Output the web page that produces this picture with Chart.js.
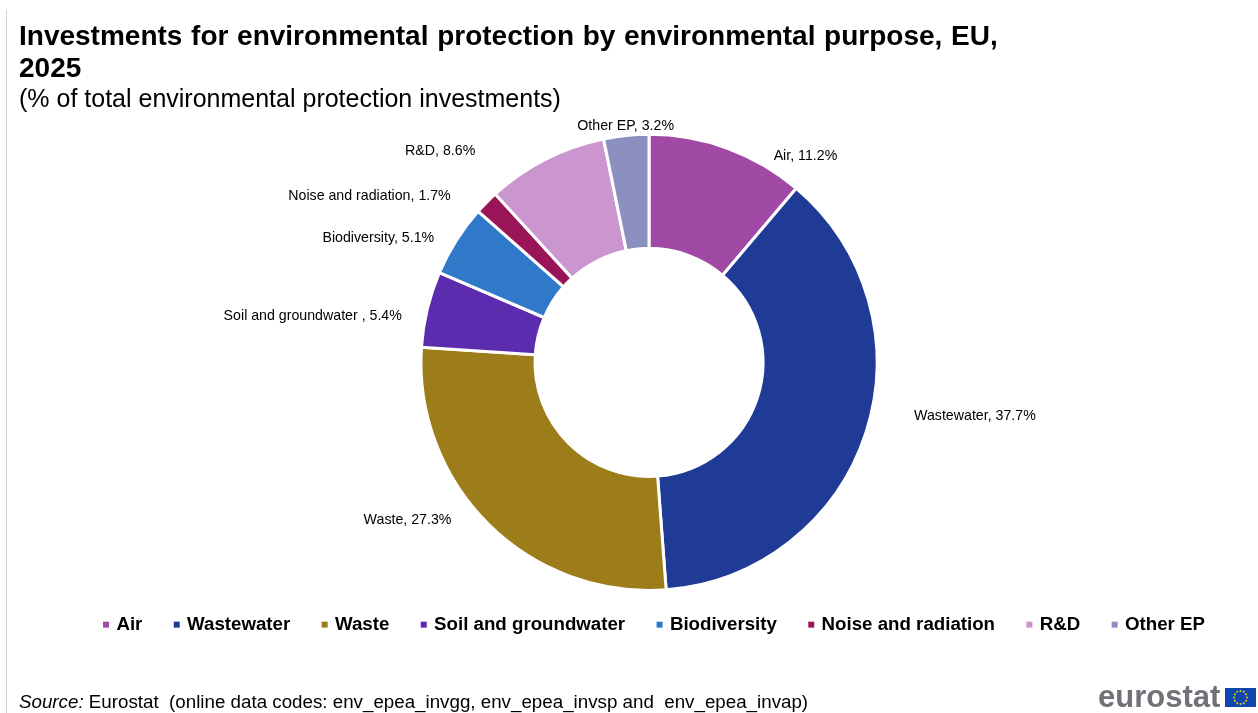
<!DOCTYPE html>
<html><head><meta charset="utf-8">
<style>html,body{margin:0;padding:0;background:#fff;overflow:hidden}#w{position:relative;width:1258px;height:713px}canvas{display:block}</style>
<script src="https://cdn.jsdelivr.net/npm/chart.js@4/dist/chart.umd.min.js"></script>
</head><body><div id="w"><canvas id="c" width="1258" height="713"></canvas></div>
<script>
const categories = ["Air","Wastewater","Waste","Soil and groundwater ","Biodiversity","Noise and radiation","R&D","Other EP"];
const values = [11.2,37.7,27.3,5.4,5.1,1.7,8.6,3.2];
const colors = ["#A04AA5","#1F3B96","#9C7D1A","#5B2CAE","#2F79C8","#9A1458","#CB96D0","#8B90C1"];
const titleLines = ["Investments for environmental protection by environmental purpose, EU,","2025"];
const subtitleText = "(% of total environmental protection investments)";
const sourceItalic = "Source:";
const sourceText = " Eurostat  (online data codes: env_epea_invgg, env_epea_invsp and  env_epea_invap)";
const labelShift = [[78,8],[109,-17],[-81,-4],[-114.5,7],[-78,-2],[-117,-6],[-105.5,-8],[-0.5,-9]];
const FF = '"Liberation Sans", Arial, sans-serif';

const extras = {
  id:'extras',
  afterLayout(chart){
    chart.boxes.forEach(b=>{
      if(b.options && b.options.text!==undefined && b.position==='top'){b.left=19;b.right=1250;}
    });
    const tb=chart.titleBlock;
    if(!tb._wrapped){
      const d=tb.draw;
      tb.draw=function(){chart.ctx.wordSpacing='0.9px';d.apply(this,arguments);chart.ctx.wordSpacing='0px';};
      tb._wrapped=true;
    }
    chart.legend.left+=6; chart.legend.right+=6;
    chart.legend.top-=10; chart.legend.bottom-=10;
  },
  beforeDraw(chart){
    const c=chart.ctx; c.save();
    c.fillStyle='#cfcfcf'; c.fillRect(6,10,1,703);
    c.restore();
  },
  afterDraw(chart){
    const c=chart.ctx, meta=chart.getDatasetMeta(0);
    c.save();
    c.fillStyle='#000'; c.font='14.2px '+FF; c.textAlign='center'; c.textBaseline='middle';
    meta.data.forEach((a,i)=>{
      const m=(a.startAngle+a.endAngle)/2;
      const x=a.x+Math.cos(m)*a.outerRadius+labelShift[i][0];
      const y=a.y+Math.sin(m)*a.outerRadius+labelShift[i][1];
      c.fillText(categories[i]+', '+values[i].toFixed(1)+'%',x,y);
    });
    c.textAlign='left'; c.textBaseline='alphabetic';
    c.font='italic 18.75px '+FF; c.fillText(sourceItalic,19,708);
    const w=c.measureText(sourceItalic).width;
    c.font='18.75px '+FF; c.fillText(sourceText,19+w,708);
    c.fillStyle='#6f7378'; c.font='bold 31px '+FF;
    c.fillText('eurostat',1098,707);
    c.fillStyle='#0f47af'; c.fillRect(1225,688,31,19);
    c.fillStyle='#f5d000';
    for(let i=0;i<12;i++){const t=i*Math.PI/6;c.beginPath();c.arc(1240.5+Math.cos(t)*6.5,697.5+Math.sin(t)*6.5,1,0,7);c.fill();}
    c.restore();
  }
};

new Chart(document.getElementById('c'),{
  type:'doughnut',
  data:{labels:categories.map(s=>s.trim()),datasets:[{data:values,backgroundColor:colors,borderColor:'#fff',borderWidth:3,hoverOffset:0}]},
  plugins:[extras],
  options:{
    responsive:false,animation:false,cutout:'50%',
    layout:{padding:{left:40,right:0,top:21,bottom:59}},
    plugins:{
      tooltip:{enabled:false},
      title:{display:true,text:titleLines,align:'start',color:'#000',font:{family:FF,size:28,weight:'bold',lineHeight:1.14},padding:{top:0,bottom:0}},
      subtitle:{display:true,text:subtitleText,align:'start',color:'#000',font:{family:FF,size:25,lineHeight:1.24},padding:{top:0,bottom:17}},
      legend:{position:'bottom',align:'center',
        labels:{boxWidth:2,boxHeight:2,padding:33.4,color:'#000',font:{family:FF,size:18.7,weight:'bold'},
          generateLabels(ch){return ch.data.labels.map((t,i)=>({text:t,fillStyle:colors[i],strokeStyle:colors[i],lineWidth:4,hidden:false,index:i,fontColor:'#000'}));}
        }
      }
    }
  }
});
</script></body></html>
